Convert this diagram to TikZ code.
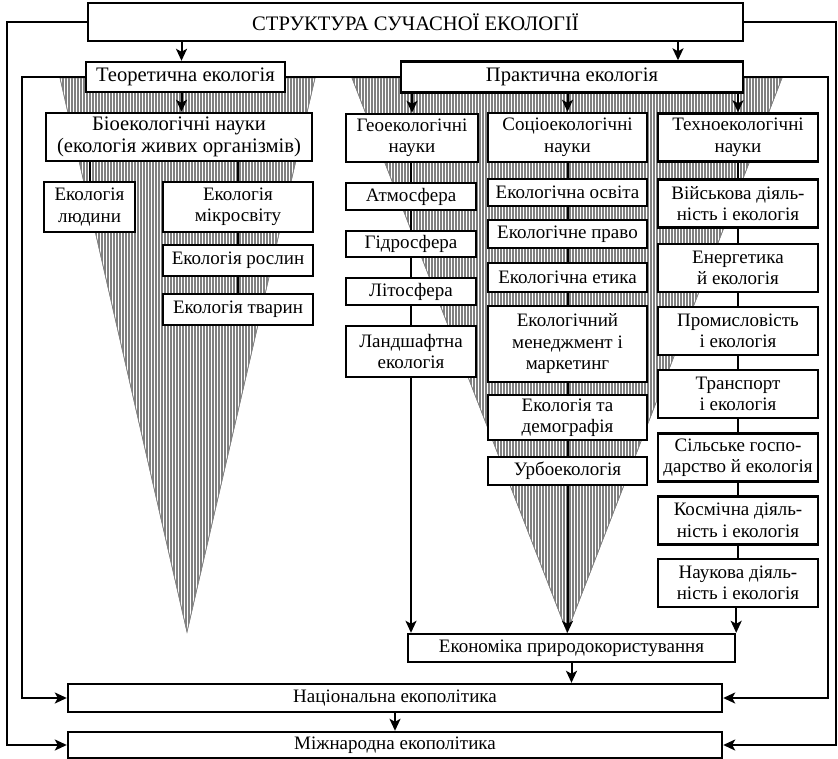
\documentclass[tikz,border=0pt]{standalone}
\usepackage{fontspec}
\setmainfont{Liberation Serif}
\usetikzlibrary{arrows.meta, patterns.meta}

\begin{document}
\begin{tikzpicture}[x=1pt, y=-1pt, >={Stealth[length=12pt, width=11pt, inset=3pt]},
        box/.style={draw, line width=2.4pt, fill=white, align=center, inner sep=1pt,
            font=\fontsize{19}{21.5}\selectfont},
        headbox/.style={box, font=\fontsize{20.6}{22.5}\selectfont},
        geobox/.style={box, minimum width=130pt},
        socbox/.style={box, minimum width=159pt},
        techbox/.style={box, minimum width=160pt},
        link/.style={line width=2pt},
        wedge/.style={draw=gray, line width=0.6pt, pattern color=gray,
            pattern={Lines[angle=90, distance=3pt, line width=1.6pt]}}]
        \useasboundingbox (0,0) rectangle (838,759);

        % Hatched wedges behind the two branches
        \fill[wedge] (60,78) -- (315,78) -- (187,632) -- cycle;
        \fill[wedge] (352,78) -- (782,78) -- (567,632) -- cycle;
        \draw[gray, line width=0.6pt] (60,78) -- (187,632) -- (315,78);
        \draw[gray, line width=0.6pt] (352,78) -- (567,632) -- (782,78);

        % Turning points of the outer connectors
        \coordinate (outerL) at (7,0);
        \coordinate (innerL) at (22,0);
        \coordinate (innerR) at (828,0);
        \coordinate (outerR) at (836,0);

        % Top levels
        \node[headbox, minimum width=655pt, minimum height=38pt] (top) at (415.5,22) {СТРУКТУРА СУЧАСНОЇ ЕКОЛОГІЇ};
        \node[headbox, minimum width=199pt, minimum height=30pt] (teor) at (185.5,77) {Теоретична екологія};
        \node[headbox, minimum width=342pt, minimum height=31pt] (prakt) at (572,77) {Практична екологія};

        % Theoretical branch
        \node[headbox, minimum width=266pt, minimum height=48pt] (bio) at (179,137) {Біоекологічні науки\\(екологія живих організмів)};
        \node[box, minimum width=91pt, minimum height=50pt] (ludy) at (89.5,207) {Екологія\\людини};
        \foreach \n/\y/\h/\t in {mikro/207/50/{Екологія\\мікросвіту}, rosl/260.5/31/{Екологія рослин}, tvar/309.5/31/{Екологія тварин}}
            \node[box, minimum width=150pt, minimum height=\h pt] (\n) at (238,\y) {\t};

        % Practical branch: three columns
        \node[geobox, minimum width=132pt, minimum height=48pt] (geo) at (412,138) {Геоекологічні\\науки};
        \foreach \n/\y/\h/\t in {atm/196.5/27/{Атмосфера}, hydro/244/26/{Гідросфера}, litho/291.5/27/{Літосфера}, land/351.5/51/{Ландшафтна\\екологія}}
            \node[geobox, minimum height=\h pt] (\n) at (411,\y) {\t};

        \foreach \n/\y/\h/\t in {soc/137.5/49/{Соціоекологічні\\науки}, osv/192.5/27/{Екологічна освіта}, pravo/234/28/{Екологічне право}, etyka/277.5/29/{Екологічна етика}, mened/344/76/{Екологічний\\менеджмент і\\маркетинг}, demogr/417.5/45/{Екологія та\\демографія}, urbo/471/28/{Урбоекологія}}
            \node[socbox, minimum height=\h pt] (\n) at (567.5,\y) {\t};

        \foreach \n/\y/\t in {tech/137.5/{Техноекологічні\\науки}, viysk/203.5/{Військова діяль-\\ність і екологія}, energ/268/{Енергетика\\й екологія}, prom/331/{Промисловість\\і екологія}, transp/394/{Транспорт\\і екологія}, silsk/457.5/{Сільське госпо-\\дарство й екологія}, kosm/520.5/{Космічна діяль-\\ність і екологія}, nauk/583/{Наукова діяль-\\ність і екологія}}
            \node[techbox, minimum height=48pt] (\n) at (738,\y) {\t};

        % Bottom levels
        \node[box, minimum width=327pt, minimum height=28pt] (econ) at (571.5,648) {Економіка природокористування};
        \node[box, minimum width=654pt, minimum height=28pt] (nat) at (395,698) {Національна екополітика};
        \node[box, minimum width=654pt, minimum height=26pt] (mizh) at (395,745) {Міжнародна екополітика};

        % Arrows between levels
        \draw[link, ->] ([xshift=-4pt]teor.north |- top.south) -- ([xshift=-4pt]teor.north);
        \draw[link, ->] ([xshift=106pt]prakt.north |- top.south) -- ([xshift=106pt]prakt.north);
        \draw[link] (teor.east) -- (prakt.west);
        \draw[link, ->] ([xshift=-4pt]teor.south) -- ([xshift=-4pt]teor.south |- bio.north);
        \foreach \c in {geo, soc, tech}
            \draw[link, ->] (\c.north |- prakt.south) -- (\c.north);

        % Outer feedback lines
        \draw[link, ->] (top.west) -- (top.west -| outerL) -- (outerL |- mizh.west) -- (mizh.west);
        \draw[link, ->] (top.east) -- (top.east -| outerR) -- (outerR |- mizh.east) -- (mizh.east);
        \draw[link, ->] (teor.west) -- (teor.west -| innerL) -- (innerL |- nat.west) -- (nat.west);
        \draw[link, ->] (prakt.east) -- (prakt.east -| innerR) -- (innerR |- nat.east) -- (nat.east);

        % Chains inside the columns
        \draw[link] (ludy.north |- bio.south) -- (ludy.north);
        \draw[link] (mikro.north |- bio.south) -- (mikro.north);
        \foreach \a/\b in {mikro/rosl, rosl/tvar, geo/atm, atm/hydro, hydro/litho, litho/land,
                soc/osv, osv/pravo, pravo/etyka, etyka/mened, mened/demogr, demogr/urbo,
                tech/viysk, viysk/energ, energ/prom, prom/transp, transp/silsk, silsk/kosm, kosm/nauk}
            \draw[link] (\b.north |- \a.south) -- (\b.north);

        % Into the economics box and below
        \draw[link, ->] (land.south) -- (land.south |- econ.north);
        \draw[link, ->] (urbo.south) -- (urbo.south |- econ.north);
        \draw[link, ->] (nauk.south -| econ.north east) -- (econ.north east);
        \draw[link, ->] (econ.south) -- (econ.south |- nat.north);
        \draw[link, ->] (nat.south) -- (mizh.north);
    \end{tikzpicture}
\end{document}
